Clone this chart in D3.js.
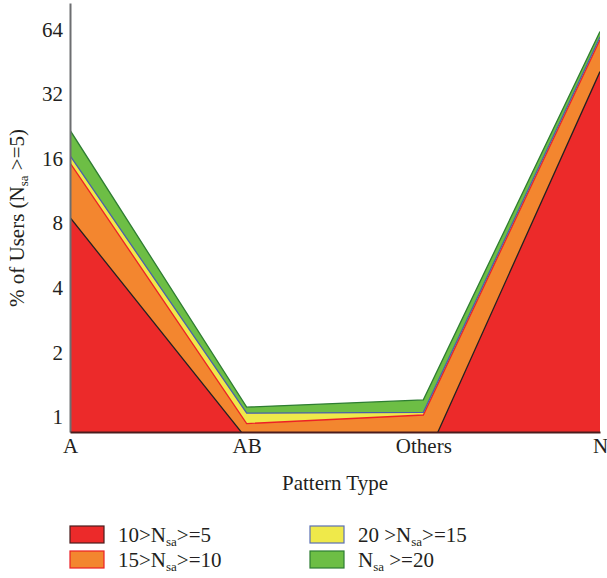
<!DOCTYPE html>
<html>
<head>
<meta charset="utf-8">
<script src="https://cdn.jsdelivr.net/npm/d3@7"></script>
<style>
  body { margin: 0; background: #fff; }
  text { font-family: "Liberation Serif", "DejaVu Serif", serif; fill: #231f20; }
</style>
</head>
<body>
<div id="chart"></div>
<script>
// pattern categories on the x axis
var categories = ["A", "AB", "Others", "N"];
// % of users per N_sa bucket (stacked)
var bucket5  = [8.5, 0.79, 0.6, 40.7];   // 10>Nsa>=5
var bucket10 = [6.8, 0.14, 0.42, 16.6];  // 15>Nsa>=10
var bucket15 = [1.2, 0.11, 0.03, 1.7];   // 20>Nsa>=15
var bucket20 = [5.2, 0.07, 0.15, 3.6];   // Nsa>=20
var yTicks = [1, 2, 4, 8, 16, 32, 64];

var keys = ["b5", "b10", "b15", "b20"];
var legendHead = ["10>N", "15>N", "20 >N", "N"];
var legendTail = [">=5", ">=10", ">=15", " >=20"];
var fills   = ["#ec2a2a", "#f3862f", "#efe94a", "#6dbe45"];
var strokes = ["#231f20", "#ec2026", "#4a5eab", "#2e7d32"];
var boxStrokes = ["#4a1d1d", "#ec2026", "#5a6fb3", "#2e7d32"];

function draw() {
    var w = 607, h = 578;
    var mLeft = 70, mRight = 600, mTop = 3, mBottom = 432;
    var fs = "21px", subFs = "13px";

    var rows = categories.map(function(c, i) {
        return { cat: c, b5: bucket5[i], b10: bucket10[i], b15: bucket15[i], b20: bucket20[i] };
    });

    var svg = d3.select("#chart").append("svg")
        .attr("width", w)
        .attr("height", h);

    svg.append("defs").append("clipPath").attr("id", "plotclip")
       .append("rect")
       .attr("x", mLeft).attr("y", mTop)
       .attr("width", mRight - mLeft).attr("height", mBottom - mTop);

    var x = d3.scalePoint().domain(categories).range([mLeft, mRight]);
    var y = d3.scaleLog().base(2).domain([0.85, 85]).range([mBottom, mTop]);

    var series = d3.stack().keys(keys)(rows);

    var area = d3.area()
        .x(function(d) { return x(d.data.cat); })
        .y0(function(d) { return d[0] > 0 ? y(d[0]) : mBottom + 200; })
        .y1(function(d) { return y(d[1]); });

    var topLine = d3.line()
        .x(function(d) { return x(d.data.cat); })
        .y(function(d) { return y(d[1]); });

    var plot = svg.append("g").attr("clip-path", "url(#plotclip)");

    plot.selectAll("path.layer")
        .data(series)
        .enter()
        .append("path")
        .attr("class", "layer")
        .attr("d", area)
        .attr("fill", function(d, i) { return fills[i]; });

    plot.selectAll("path.edge")
        .data(series)
        .enter()
        .append("path")
        .attr("class", "edge")
        .attr("d", topLine)
        .attr("fill", "none")
        .attr("stroke", function(d, i) { return strokes[i]; })
        .attr("stroke-width", 1.3);

    // axes
    var yAxis = d3.axisLeft(y).tickValues(yTicks).tickFormat(d3.format("d")).tickSize(0).tickPadding(7);
    var gy = svg.append("g").attr("transform", "translate(" + mLeft + ",0)").call(yAxis);
    gy.select(".domain").attr("stroke", "#6d6e71").attr("stroke-width", 2);
    gy.selectAll("text").style("font-size", fs).style("font-family", "Liberation Serif, serif").attr("fill", "#231f20");

    var xAxis = d3.axisBottom(x).tickSize(0).tickPadding(6);
    var gx = svg.append("g").attr("transform", "translate(0," + mBottom + ")").call(xAxis);
    gx.select(".domain").attr("stroke", "#4a1d1d").attr("stroke-width", 2);
    gx.selectAll("text").style("font-size", fs).style("font-family", "Liberation Serif, serif").attr("fill", "#231f20");

    // axis titles
    var yl = svg.append("text")
        .attr("transform", "translate(24,218) rotate(-90)")
        .attr("text-anchor", "middle")
        .style("font-size", fs);
    yl.append("tspan").text("% of Users (N");
    yl.append("tspan").attr("baseline-shift", "-4px").style("font-size", subFs).text("sa");
    yl.append("tspan").text(" >=5)");

    svg.append("text")
        .attr("x", 335).attr("y", 490)
        .attr("text-anchor", "middle")
        .style("font-size", fs)
        .text("Pattern Type");

    // legend
    var legend = svg.selectAll("g.leg")
        .data(keys)
        .enter()
        .append("g")
        .attr("class", "leg")
        .attr("transform", function(d, i) {
            var col = i < 2 ? 0 : 1, row = i % 2;
            return "translate(" + (col ? 310 : 70) + "," + (526 + row * 25) + ")";
        });

    legend.append("rect")
        .attr("width", 34).attr("height", 17)
        .attr("fill", function(d, i) { return fills[i]; })
        .attr("stroke", function(d, i) { return boxStrokes[i]; })
        .attr("stroke-width", 1.2);

    var lt = legend.append("text")
        .attr("x", 48).attr("y", 16)
        .style("font-size", fs);
    lt.append("tspan").text(function(d, i) { return legendHead[i]; });
    lt.append("tspan").attr("baseline-shift", "-4px").style("font-size", subFs).text("sa");
    lt.append("tspan").text(function(d, i) { return legendTail[i]; });
}

window.onload = draw;
</script>
</body>
</html>
